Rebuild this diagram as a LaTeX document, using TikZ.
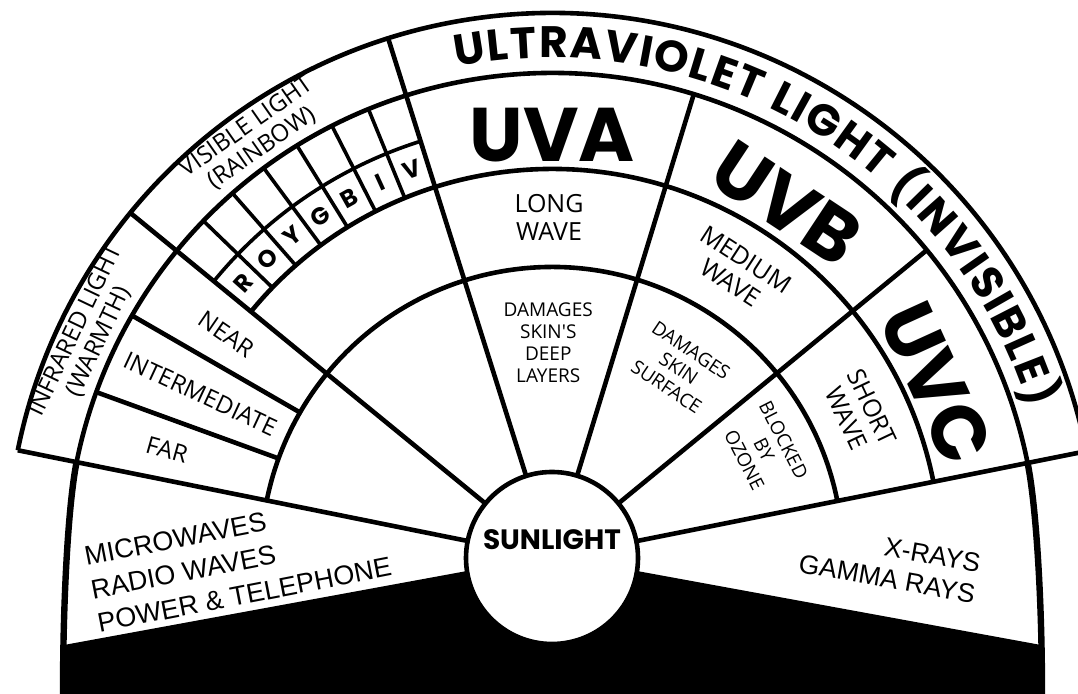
\documentclass[tikz,border=0pt]{standalone}
\usepackage{fontspec}
\setmainfont{Liberation Sans}
\newfontfamily\lblfont{Open Sans}
\newfontfamily\heavyfont{Poppins}
\usetikzlibrary{calc,decorations.text}

\begin{document}
\begin{tikzpicture}[x=0.5pt,y=0.5pt,
  rim/.style={line width=2.3pt},
  cell/.style={line width=1.8pt},
  thin/.style={font=\lblfont\fontsize{12}{13}\selectfont,align=center,inner sep=0pt},
  wave/.style={font=\lblfont\fontsize{12.5}{14}\selectfont,align=center,inner sep=0pt},
  harm/.style={font=\lblfont\fontsize{9.5}{11}\selectfont,align=center,inner sep=0pt},
  uvx/.style={font=\heavyfont\bfseries\fontsize{38}{40}\selectfont,inner sep=0pt},
  hue/.style={font=\heavyfont\bfseries\fontsize{12}{12}\selectfont,inner sep=0pt},
  plain/.style={font=\fontsize{13.5}{17}\selectfont,inner sep=0pt}
]
\useasboundingbox (0,0) rectangle (1078,694);
\clip (0,0) rectangle (1078,694);
\coordinate (C) at (552,136);

% BASE: black foot under the fan
\fill ($(C)+(188.7:86)$) -- (64,49) -- (63,0) -- (1042,0) -- (1041,49) -- ($(C)+(-8.7:86)$) -- cycle;
\draw[line width=3.2pt] ($(C)+(168.6:485)$) .. controls (68.6,192) and (63,100) .. (63,0);
\draw[line width=3.2pt] ($(C)+(11.3:485)$) .. controls (1035.6,192) and (1042,100) .. (1042,0);

% ARCS
\draw[rim] ($(C)+(11.3:545)$) arc[start angle=11.3,end angle=168.6,radius=545];
\draw[rim] ($(C)+(11.3:485)$) arc[start angle=11.3,end angle=168.6,radius=485];
\draw[rim] ($(C)+(11.3:389)$) arc[start angle=11.3,end angle=140.7,radius=389];
\draw[rim] ($(C)+(11.3:291)$) arc[start angle=11.3,end angle=168.6,radius=291];
\draw[cell] ($(C)+(107.5:437)$) arc[start angle=107.5,end angle=140.7,radius=437];

% SPOKES
\foreach \a in {11.3,107.5,140.7,168.6} \draw[rim] ($(C)+(\a:80)$) -- ($(C)+(\a:545)$);
\foreach \a in {39.4,73} \draw[rim] ($(C)+(\a:80)$) -- ($(C)+(\a:485)$);
\foreach \a in {150,160} \draw[rim] ($(C)+(\a:291)$) -- ($(C)+(\a:485)$);
\foreach \k in {1,...,6} \draw[cell] ($(C)+({107.5+\k*4.743}:389)$) -- ($(C)+({107.5+\k*4.743}:485)$);

% CENTRE
\node[circle,draw,line width=2.3pt,fill=white,minimum size=86pt,inner sep=0pt] (sun) at (C) {};
\node[font=\heavyfont\bfseries\fontsize{14}{14}\selectfont,inner sep=0pt] (sunlbl) at ($(C)+(0,18)$) {SUNLIGHT};

% LEFT: infrared and visible
\node[thin,rotate=64.5] (ir) at ($(C)+(154.5:515)$) {INFRARED LIGHT\\(WARMTH)};
\node[thin,rotate=35] (vis) at ($(C)+(125.3:515)$) {VISIBLE LIGHT\\(RAINBOW)};
\node[thin,rotate=-34.5] (near) at ($(C)+(145.5:395)$) {NEAR};
\node[thin,rotate=-25] (inter) at ($(C)+(155:388)$) {INTERMEDIATE};
\node[thin,rotate=-15.7] (far) at ($(C)+(164.3:400)$) {FAR};
\foreach \ltr [count=\i] in {V,I,B,G,Y,O,R}
  \node[hue,rotate={107.5+(\i-0.5)*4.743-90}] (hue\i) at ($(C)+({107.5+(\i-0.5)*4.743}:413)$) {\ltr};

% RIGHT: ultraviolet
\path[decorate,decoration={text along path,text align={fit to path},
  text={|\heavyfont\bfseries\fontsize{22}{22}\selectfont|ULTRAVIOLET LIGHT (INVISIBLE)}}]
  ($(C)+(101:500)$) arc[start angle=101,end angle=17.5,radius=500];
\node[uvx] (uva) at ($(C)+(90:423)$) {UVA};
\node[uvx,rotate=-33.5] (uvb) at ($(C)+(56.5:425)$) {UVB};
\node[uvx,rotate=-65.5] (uvc) at ($(C)+(24.5:422)$) {UVC};
\node[wave] (long) at ($(C)+(90.5:341)$) {LONG\\WAVE};
\node[wave,rotate=-33] (medium) at ($(C)+(57:342)$) {MEDIUM\\WAVE};
\node[wave,rotate=-64.7] (short) at ($(C)+(25.3:340)$) {SHORT\\WAVE};
\node[harm] (deep) at ($(C)+(91:215)$) {DAMAGES\\SKIN'S\\DEEP\\LAYERS};
\node[harm,rotate=-33.8] (surf) at ($(C)+(56.2:228)$) {DAMAGES\\SKIN\\SURFACE};
\node[harm,rotate=-63] (ozone) at ($(C)+(27:238)$) {BLOCKED\\BY\\OZONE};

% BOTTOM: long and short waves
\node[plain,rotate=11,anchor=west,align=left] (radio) at (91,104) {MICROWAVES\\RADIO WAVES\\POWER \& TELEPHONE};
\node[plain,font=\fontsize{13.3}{15.5}\selectfont,rotate=-10,anchor=east,align=right] (rays) at (978,115) {X-RAYS\\GAMMA RAYS};
\end{tikzpicture}
\end{document}
